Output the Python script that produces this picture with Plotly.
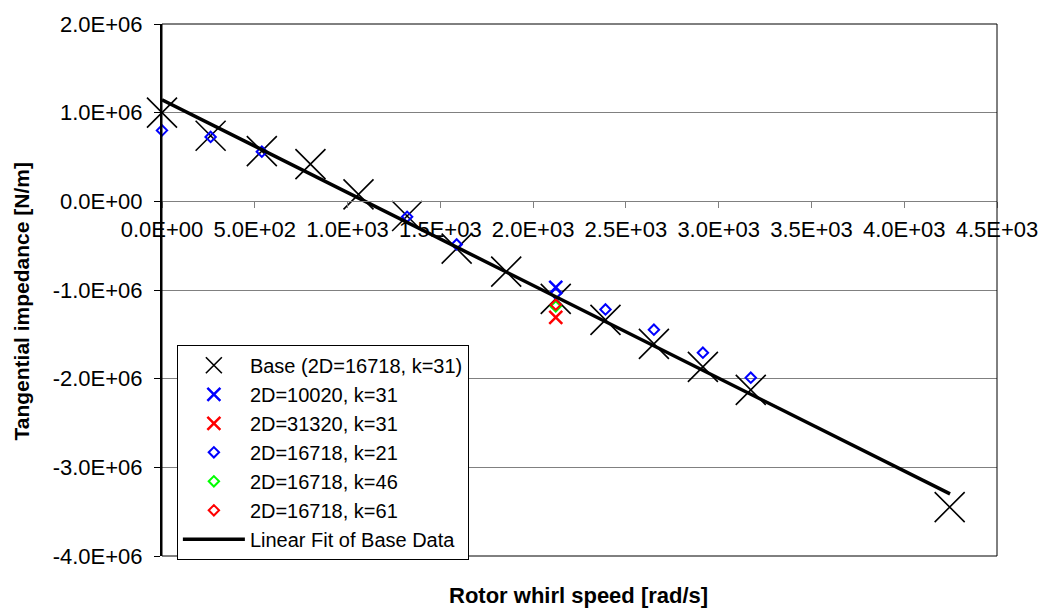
import plotly.graph_objects as go

# ---- data ----
base_x = [0, 262, 538, 800, 1059, 1321, 1588, 1855, 2122, 2390, 2651, 2915, 3173, 4245]
base_y = [1.00e6, 0.74e6, 0.567e6, 0.42e6, 0.078e6, -0.165e6, -0.533e6, -0.793e6,
          -1.10e6, -1.337e6, -1.607e6, -1.867e6, -2.126e6, -3.448e6]

d10020_x = [2122]
d10020_y = [-0.97e6]

d31320_x = [2122]
d31320_y = [-1.31e6]

k21_x = [0, 262, 538, 1321, 1588, 2122, 2390, 2651, 2915, 3173]
k21_y = [0.80e6, 0.726e6, 0.56e6, -0.174e6, -0.486e6, -1.04e6, -1.219e6, -1.448e6,
         -1.707e6, -1.989e6]

k46_x = [2122]
k46_y = [-1.185e6]

k61_x = [2122]
k61_y = [-1.165e6]

fit_x = [0, 4247]
fit_y = [1.145e6, -3.30e6]

x_tickvals = [0, 500, 1000, 1500, 2000, 2500, 3000, 3500, 4000, 4500]
x_ticktext = ["0.0E+00", "5.0E+02", "1.0E+03", "1.5E+03", "2.0E+03", "2.5E+03",
              "3.0E+03", "3.5E+03", "4.0E+03", "4.5E+03"]
y_tickvals = [2e6, 1e6, 0, -1e6, -2e6, -3e6, -4e6]
y_ticktext = ["2.0E+06", "1.0E+06", "0.0E+00", "-1.0E+06", "-2.0E+06", "-3.0E+06", "-4.0E+06"]

FONT = "Liberation Sans, Arial, sans-serif"

fig = go.Figure()
fig.add_trace(go.Scatter(x=base_x, y=base_y, mode="markers", name="Base (2D=16718, k=31)",
                         cliponaxis=False,
                         marker=dict(symbol="x-thin", size=30, color="black",
                                     line=dict(color="black", width=1.6))))
fig.add_trace(go.Scatter(x=d10020_x, y=d10020_y, mode="markers", name="2D=10020, k=31",
                         cliponaxis=False,
                         marker=dict(symbol="x-thin", size=13, color="#0000FF",
                                     line=dict(color="#0000FF", width=2.5))))
fig.add_trace(go.Scatter(x=d31320_x, y=d31320_y, mode="markers", name="2D=31320, k=31",
                         cliponaxis=False,
                         marker=dict(symbol="x-thin", size=13, color="#FF0000",
                                     line=dict(color="#FF0000", width=2.5))))
fig.add_trace(go.Scatter(x=k21_x, y=k21_y, mode="markers", name="2D=16718, k=21",
                         cliponaxis=False,
                         marker=dict(symbol="diamond-open", size=8, color="#0000FF",
                                     line=dict(color="#0000FF", width=2))))
fig.add_trace(go.Scatter(x=k46_x, y=k46_y, mode="markers", name="2D=16718, k=46",
                         cliponaxis=False,
                         marker=dict(symbol="diamond-open", size=8, color="#00FF00",
                                     line=dict(color="#00FF00", width=2))))
fig.add_trace(go.Scatter(x=k61_x, y=k61_y, mode="markers", name="2D=16718, k=61",
                         cliponaxis=False,
                         marker=dict(symbol="diamond-open", size=8, color="#FF0000",
                                     line=dict(color="#FF0000", width=2))))
fig.add_trace(go.Scatter(x=fit_x, y=fit_y, mode="lines", name="Linear Fit of Base Data",
                         line=dict(color="black", width=3.5)))

fig.update_layout(
    width=1050, height=610,
    margin=dict(l=162, r=46, t=17, b=54),
    paper_bgcolor="white", plot_bgcolor="white",
    font=dict(family=FONT, color="black"),
    showlegend=True,
    legend=dict(x=(177 - 162) / 842, y=1 - (342 - 17) / 539, xanchor="left", yanchor="top",
                bgcolor="white", bordercolor="black", borderwidth=1,
                font=dict(family=FONT, size=20, color="black"),
                itemwidth=62, tracegroupgap=0),
    xaxis=dict(range=[0, 4500], tickvals=x_tickvals, ticktext=x_ticktext,
               anchor="free", position=4 / 6, showgrid=False, zeroline=False,
               showline=True, linecolor="#808080", linewidth=1,
               ticks="outside", ticklen=6, tickcolor="#808080", tickwidth=1,
               ticklabelstandoff=2,
               tickfont=dict(family=FONT, size=22, color="black")),
    yaxis=dict(range=[-4e6, 2e6], tickvals=y_tickvals, ticktext=y_ticktext,
               showgrid=True, gridcolor="#808080", gridwidth=1, zeroline=False,
               showline=True, linecolor="black", linewidth=2,
               ticks="outside", ticklen=6, tickcolor="black", tickwidth=1,
               ticklabelstandoff=7,
               tickfont=dict(family=FONT, size=22, color="black")),
    shapes=[dict(type="rect", xref="x domain", yref="y domain", x0=0, x1=1, y0=0, y1=1,
                 line=dict(color="black", width=1), layer="above")],
    annotations=[
        dict(text="<b>Rotor whirl speed [rad/s]</b>", xref="paper", yref="paper",
             x=(582 - 162) / 842, y=1 - (596 - 17) / 539, xanchor="center", yanchor="middle",
             showarrow=False, font=dict(family=FONT, size=22, color="black")),
        dict(text="<b>Tangential impedance [N/m]</b>", xref="paper", yref="paper",
             x=(20 - 162) / 842, y=1 - (298 - 17) / 539, xanchor="center", yanchor="middle",
             textangle=-90, showarrow=False, font=dict(family=FONT, size=21, color="black")),
    ],
)

fig.write_html("out.html")
